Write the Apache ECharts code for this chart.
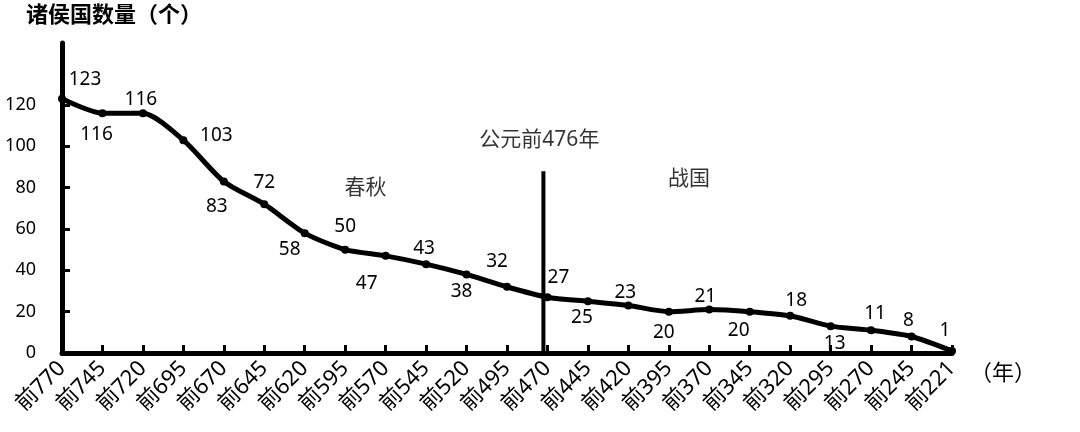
<!DOCTYPE html>
<html>
<head>
<meta charset="utf-8">
<script src="https://cdn.jsdelivr.net/npm/echarts@6/dist/echarts.min.js"></script>
<style>
    html, body { margin: 0; padding: 0; background: #fff; }
    #chart { width: 1080px; height: 432px; }
</style>
</head>
<body>
<div id="chart"></div>
<script>
// 年份（公元前）
var years = ['前770', '前745', '前720', '前695', '前670', '前645', '前620', '前595',
    '前570', '前545', '前520', '前495', '前470', '前445', '前420', '前395',
    '前370', '前345', '前320', '前295', '前270', '前245', '前221'];
// 诸侯国数量
var counts = [123, 116, 116, 103, 83, 72, 58, 50, 47, 43, 38, 32,
    27, 25, 23, 20, 21, 20, 18, 13, 11, 8, 1];
var yTicks = [20, 40, 60, 80, 100, 120];

// 分界线：公元前476年（位于前495与前470之间）
var dividerIndex = 11.9;
var dividerTop = 88;
var notes = [
    {text: '公元前476年', x: 11.8, y: 103},
    {text: '春秋', x: 7.5, y: 80},
    {text: '战国', x: 15.5, y: 84}
];

// 数值标签偏移（相对于数据点）
var labelOffsets = [
    [23, -19], [-6, 21], [-2, -14], [33, -5], [-7, 25], [0, -22], [-15, 16], [0, -23],
    [-19, 28], [-2, -16], [-5, 17], [-10, -25], [11, -20], [-6, 16], [-3, -13], [-5, 21],
    [-4, -13], [-11, 19], [6, -15], [4, 17], [4, -17], [-3, -16], [-7, -20]
];

var font = '"Noto Sans", "Noto Sans CJK SC", sans-serif';

var lineData = [];
for (var i = 0; i < counts.length; i++) {
    lineData.push({
        value: counts[i],
        label: {offset: labelOffsets[i]}
    });
}

var noteData = [];
for (var j = 0; j < notes.length; j++) {
    noteData.push({value: [notes[j].x, notes[j].y], name: notes[j].text});
}

var myChart = echarts.init(document.getElementById('chart'));
myChart.setOption({
    animation: false,
    backgroundColor: '#fff',
    grid: {left: 62, right: 128, top: 43, bottom: 79},
    xAxis: [{
        type: 'category',
        data: years,
        boundaryGap: false,
        axisLine: {lineStyle: {color: '#000', width: 5}},
        axisTick: {show: true, inside: true, length: 8, alignWithLabel: true,
            lineStyle: {color: '#000', width: 3}},
        axisLabel: {rotate: 45, interval: 0, color: '#000', fontSize: 22,
            fontFamily: font, margin: 12},
        name: '（年）',
        nameLocation: 'end',
        nameGap: 18,
        nameTextStyle: {color: '#000', fontSize: 22, fontFamily: font,
            verticalAlign: 'top', padding: [10, 0, 0, 0]},
        splitLine: {show: false}
    }, {
        type: 'value',
        min: 0,
        max: years.length - 1,
        show: false
    }],
    yAxis: {
        type: 'value',
        min: 0,
        max: 150,
        interval: 20,
        axisLine: {show: true, lineStyle: {color: '#000', width: 5}},
        axisTick: {show: true, inside: true, length: 8, customValues: yTicks,
            lineStyle: {color: '#000', width: 3}},
        axisLabel: {color: '#000', fontSize: 18, fontFamily: font, margin: 26,
            customValues: [0].concat(yTicks)},
        splitLine: {show: false},
        name: '诸侯国数量（个）',
        nameLocation: 'end',
        nameGap: 16,
        nameTextStyle: {color: '#000', fontSize: 22, fontFamily: font,
            fontWeight: 'bold', align: 'left', padding: [0, 0, 0, -36]}
    },
    series: [{
        name: '诸侯国数量',
        type: 'line',
        data: lineData,
        smooth: 0.25,
        symbol: 'circle',
        symbolSize: 8,
        itemStyle: {color: '#000'},
        lineStyle: {color: '#000', width: 5},
        label: {show: true, position: 'inside', color: '#000', fontSize: 19,
            fontFamily: font},
        z: 3
    }, {
        name: '分界线',
        type: 'line',
        xAxisIndex: 1,
        data: [[dividerIndex, 0], [dividerIndex, dividerTop]],
        symbol: 'none',
        lineStyle: {color: '#000', width: 4},
        z: 2
    }, {
        name: '注释',
        type: 'scatter',
        xAxisIndex: 1,
        data: noteData,
        symbolSize: 0,
        label: {show: true, position: 'inside', formatter: '{b}', color: '#000',
            fontSize: 21, fontFamily: font}
    }]
});
</script>
</body>
</html>
